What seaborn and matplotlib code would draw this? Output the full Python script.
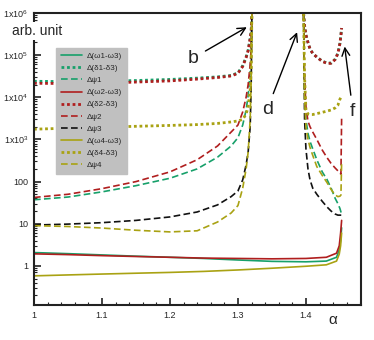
import matplotlib
matplotlib.use("Agg")
import matplotlib.pyplot as plt
import matplotlib.ticker as mticker
import seaborn as sns
import numpy as np

# ---- data ----
# branch below the first resonance (b)
alpha_1 = [1.00, 1.05, 1.10, 1.15, 1.20, 1.24, 1.27, 1.29, 1.30, 1.307, 1.312, 1.315, 1.318, 1.3195, 1.3205]
d13_1 = [2.4e4, 2.35e4, 2.4e4, 2.5e4, 2.65e4, 2.85e4, 3.05e4, 3.3e4, 3.8e4, 5.6e4, 9e4, 1.3e5, 2.5e5, 3.8e5, 1e6]
d23_1 = [2.15e4, 2.12e4, 2.15e4, 2.3e4, 2.45e4, 2.7e4, 2.95e4, 3.2e4, 3.7e4, 5.4e4, 8.8e4, 1.28e5, 2.5e5, 3.8e5, 1e6]
d43_1 = [1.75e3, 1.85e3, 1.95e3, 2.05e3, 2.15e3, 2.25e3, 2.4e3, 2.6e3, 2.75e3, 3.0e3, 4e3, 6e3, 1.5e4, 5e4, 1e6]
psi1_1 = [37, 43, 57, 80, 120, 200, 380, 700, 1.1e3, 2.2e3, 5e3, 1.1e4, 4e4, 1.2e5, 1e6]
psi2_1 = [42, 50, 68, 100, 170, 330, 700, 1.5e3, 2.2e3, 4.5e3, 1e4, 2e4, 6e4, 1.5e5, 1e6]
psi3_1 = [9.3, 9.8, 10.6, 12, 14.5, 19, 28, 44, 60, 110, 250, 500, 2e3, 2e4, 1e6]
psi4_1 = [9.0, 8.6, 7.9, 7.0, 6.4, 6.8, 11, 18, 27, 70, 200, 500, 3e3, 3e4, 1e6]

# branch between the second (d) and third (f) resonance
alpha_2 = [1.3965, 1.398, 1.400, 1.403, 1.406, 1.410, 1.416, 1.424, 1.431, 1.437, 1.443, 1.447, 1.450, 1.4515, 1.4525]
d13_2 = [1e6, 5e5, 3e5, 2e5, 1.4e5, 1.1e5, 9e4, 7.2e4, 6.5e4, 6.5e4, 8e4, 1.1e5, 1.9e5, 3e5, 4.4e5]
d23_2 = [1e6, 5e5, 3e5, 2e5, 1.4e5, 1.1e5, 9e4, 7.1e4, 6.4e4, 6.4e4, 7.9e4, 1.1e5, 1.9e5, 3e5, 4.4e5]
d43_2 = [1e6, 3e4, 5e3, 4e3, 3.9e3, 3.9e3, 4.1e3, 4.4e3, 4.7e3, 5e3, 5.6e3, 6.5e3, 9e3, 1e4, 1.1e4]
psi1_2 = [1e6, 1.5e4, 3e3, 1.4e3, 900, 600, 330, 170, 112, 70, 40, 30, 23, 19, 17]
psi2_2 = [1e6, 3e4, 6e3, 2.7e3, 2e3, 1.5e3, 1e3, 560, 370, 270, 210, 180, 160, 150, 3.3e3]
psi3_2 = [1e6, 3e3, 600, 200, 110, 70, 50, 34, 25, 20, 17, 16, 16, 16, 16]
psi4_2 = [1e6, 1e4, 2e3, 1e3, 650, 420, 227, 140, 95, 65, 48, 44, 45, 48, 300]

# frequency differences, continuous over the whole range
alpha_w = [1.00, 1.05, 1.10, 1.15, 1.20, 1.25, 1.30, 1.35, 1.40, 1.43, 1.445, 1.449, 1.451, 1.4525]
w13 = [2.07, 1.95, 1.82, 1.7, 1.6, 1.5, 1.38, 1.28, 1.25, 1.3, 1.6, 2.4, 4, 8]
w23 = [1.93, 1.85, 1.75, 1.67, 1.6, 1.53, 1.5, 1.47, 1.5, 1.6, 2.0, 3, 6, 12]
w43 = [0.58, 0.61, 0.64, 0.67, 0.7, 0.74, 0.8, 0.88, 0.98, 1.06, 1.3, 1.9, 3, 6]

GREEN = "#17a06a"
RED = "#b01e1e"
BLACK = "#111111"
OLIVE = "#a9a213"

sns.set_style("ticks")
plt.rcParams["font.family"] = ["Liberation Sans", "DejaVu Sans"]
plt.rcParams["mathtext.default"] = "regular"

fig = plt.figure(figsize=(3.74, 3.4), dpi=100)
ax = fig.add_axes([34 / 374, 1 - 305 / 340, 327 / 374, 292 / 340])

solid = dict(linestyle="-", lw=1.2)
dotted = dict(linestyle=(0, (1, 1)), lw=2.0)
dashed = dict(linestyle=(0, (4, 2)), lw=1.2)

series = [
    ("Δ(ω1-ω3)", GREEN, solid, [(alpha_w, w13)]),
    ("Δ(δ1-δ3)", GREEN, dotted, [(alpha_1, d13_1), (alpha_2, d13_2)]),
    ("Δψ1", GREEN, dashed, [(alpha_1, psi1_1), (alpha_2, psi1_2)]),
    ("Δ(ω2-ω3)", RED, solid, [(alpha_w, w23)]),
    ("Δ(δ2-δ3)", RED, dotted, [(alpha_1, d23_1), (alpha_2, d23_2)]),
    ("Δψ2", RED, dashed, [(alpha_1, psi2_1), (alpha_2, psi2_2)]),
    ("Δψ3", BLACK, dashed, [(alpha_1, psi3_1), (alpha_2, psi3_2)]),
    ("Δ(ω4-ω3)", OLIVE, solid, [(alpha_w, w43)]),
    ("Δ(δ4-δ3)", OLIVE, dotted, [(alpha_1, d43_1), (alpha_2, d43_2)]),
    ("Δψ4", OLIVE, dashed, [(alpha_1, psi4_1), (alpha_2, psi4_2)]),
]

for name, col, style, segs in series:
    for k, (xs, ys) in enumerate(segs):
        sns.lineplot(x=xs, y=ys, ax=ax, color=col, sort=False, estimator=None,
                     label=name if k == 0 else "_nolegend_", **style)

ax.set_yscale("log")
ax.set_xlim(1.0, 1.481)
ax.set_ylim(0.118, 1e6)

def ylab(v, pos):
    e = int(round(np.log10(v)))
    if e <= 2:
        return str(int(round(v)))
    return "1x10$^{%d}$" % e

ax.yaxis.set_major_locator(mticker.LogLocator(base=10, numticks=12))
ax.yaxis.set_minor_locator(mticker.LogLocator(base=10, subs=np.arange(2, 10), numticks=12))
ax.yaxis.set_major_formatter(mticker.FuncFormatter(ylab))
ax.yaxis.set_minor_formatter(mticker.NullFormatter())
ax.xaxis.set_major_locator(mticker.FixedLocator([1.0, 1.1, 1.2, 1.3, 1.4]))
ax.xaxis.set_major_formatter(mticker.FixedFormatter(["1", "1.1", "1.2", "1.3", "1.4"]))
ax.xaxis.set_minor_locator(mticker.MultipleLocator(0.02))

ax.tick_params(which="major", direction="in", length=5, width=1.2, labelsize=6.5, pad=4, color="#222222")
ax.tick_params(which="minor", direction="in", length=2.5, width=0.8, color="#222222")
for sp in ax.spines.values():
    sp.set_linewidth(1.5)
    sp.set_color("#222222")
ax.set_xlabel("")
ax.set_ylabel("")
ax.xaxis.label.set_visible(False)
ax.yaxis.label.set_visible(False)

handles, labels = ax.get_legend_handles_labels()
leg = ax.legend(handles, labels, loc="upper left", bbox_to_anchor=(0.055, 0.895),
                fontsize=5.8, frameon=True, fancybox=False, framealpha=1,
                facecolor="#c0c0c0", edgecolor="#c0c0c0", handlelength=2.6,
                labelspacing=0.55, borderpad=0.6, handletextpad=0.6)

arrow = dict(arrowstyle="->", lw=1.0, color="black", shrinkA=3, shrinkB=0)
ax.annotate("b", xy=(1.313, 4.6e5), xytext=(1.234, 8.5e4), fontsize=14,
            ha="center", va="center", arrowprops=arrow)
ax.annotate("d", xy=(1.387, 3.5e5), xytext=(1.343, 5.2e3), fontsize=14,
            ha="center", va="center", arrowprops=arrow)
ax.annotate("f", xy=(1.457, 1.6e5), xytext=(1.469, 4.7e3), fontsize=14,
            ha="center", va="center", arrowprops=arrow)

fig.text(12 / 374, 1 - 31 / 340, "arb. unit", fontsize=10, ha="left", va="center",
         bbox=dict(facecolor="white", edgecolor="none", pad=1.5))
fig.text(333 / 374, 1 - 320 / 340, "α", fontsize=11, ha="center", va="center")

fig.savefig("out.png", dpi=100)
